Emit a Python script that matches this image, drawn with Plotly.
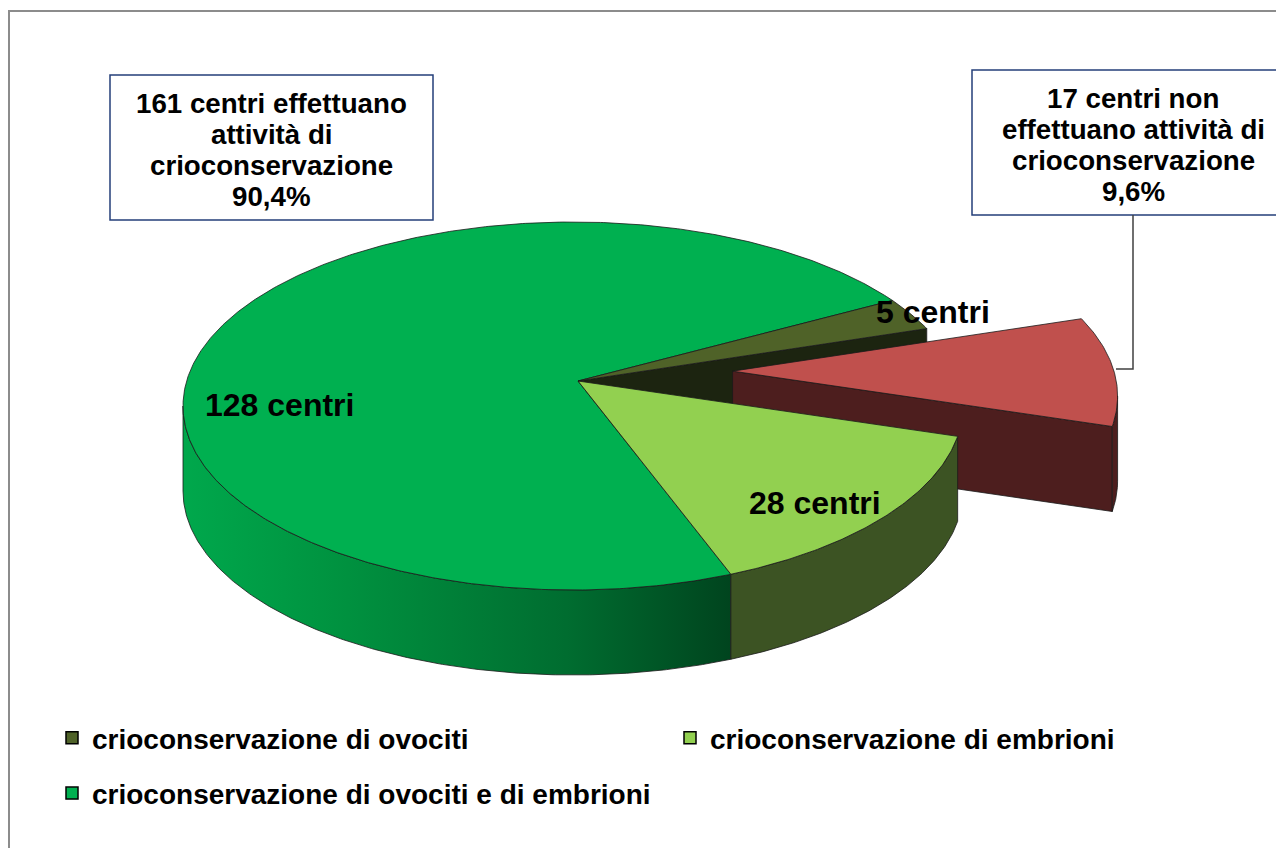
import numpy as np
import plotly.graph_objects as go

# ---------------- data ----------------
categories = [
    "crioconservazione di ovociti",
    "non effettuano crioconservazione",
    "crioconservazione di embrioni",
    "crioconservazione di ovociti e di embrioni",
]
centri = [5, 17, 28, 128]
slice_labels = ["5 centri", "", "28 centri", "128 centri"]
legend_items = [0, 3, 2]          # indexes shown in the legend (ovociti, both, embrioni)
box_left = ["161 centri effettuano", "attività di", "crioconservazione", "90,4%"]
box_right = ["17 centri non", "effettuano attività di", "crioconservazione", "9,6%"]

# ---------------- style ----------------
top_colors = ["#4f6228", "#c0504d", "#92d050", "#00b050"]
side_colors = ["#1c2410", "#4d1e1e", "#3c5323", None]
green_side_scale = [[0, "#00a84c"], [0.3, "#00913f"], [0.7, "#006d30"], [1, "#00441e"]]
explode = [0, 0.4, 0, 0]
FONT = "Liberation Sans, Arial, sans-serif"
EDGE = dict(color="#1a1a1a", width=0.8)

# page offset (browser body margin) so that axis units equal screen pixels
OFF = 8
W, H = 1284, 848

# geometry of the projected (tilted) pie, in pixel units of the axes
CX, CY, A, B = 573, 406, 390, 184
APX, APY = 578, 381
DEPTH = 85
START = 35.0

total = float(sum(centri))
cum = np.concatenate([[0], np.cumsum(centri)]) / total * 360.0
t_start = START - cum[:-1]
t_end = START - cum[1:]


def rim(t1, t2, ox=0.0, oy=0.0, dz=0.0, n=None):
    if n is None:
        n = max(int(abs(t1 - t2) * 2) + 2, 3)
    t = np.radians(np.linspace(t1, t2, n))
    return CX + ox + A * np.cos(t), CY + oy - B * np.sin(t) + dz


def offset(i):
    mid = np.radians((t_start[i] + t_end[i]) / 2)
    return explode[i] * A * np.cos(mid), -explode[i] * B * np.sin(mid)


def lower_parts(t1, t2):
    """parts of arc [t2, t1] (clockwise) where the rim faces the viewer"""
    parts = []
    for lo, hi in [(-540, -360), (-180, 0), (180, 360)]:
        a, b = max(t2, lo), min(t1, hi)
        if b > a:
            parts.append((b, a))
    return parts


fig = go.Figure()


def poly(xs, ys, color, **kw):
    fig.add_trace(go.Scatter(
        x=np.append(xs, xs[0]), y=np.append(ys, ys[0]), mode="lines",
        fill="toself", fillcolor=color, line=EDGE, hoverinfo="skip",
        showlegend=False, **kw))


def radial_face(i, t):
    ox, oy = offset(i)
    rx, ry = rim(t, t, ox, oy, n=1)
    xs = np.array([APX + ox, rx[0], rx[0], APX + ox])
    ys = np.array([APY + oy, ry[0], ry[0] + DEPTH, APY + oy + DEPTH])
    poly(xs, ys, side_colors[i])


def walls(i):
    ox, oy = offset(i)
    for a1, a2 in lower_parts(t_start[i], t_end[i]):
        x1, y1 = rim(a1, a2, ox, oy)
        x2, y2 = rim(a2, a1, ox, oy, DEPTH)
        xs, ys = np.concatenate([x1, x2]), np.concatenate([y1, y2])
        if side_colors[i] is None:
            poly(xs, ys, None, fillgradient=dict(type="horizontal", colorscale=green_side_scale))
        else:
            poly(xs, ys, side_colors[i])


def top(i):
    ox, oy = offset(i)
    x, y = rim(t_start[i], t_end[i], ox, oy)
    poly(np.concatenate([[APX + ox], x]), np.concatenate([[APY + oy], y]), top_colors[i])


# painter's order
radial_face(0, t_end[0])          # cut face of 'ovociti' exposed by the exploded slice
radial_face(1, t_end[1])          # exploded slice
walls(1)
top(1)
walls(3)
walls(2)
for i in (3, 2, 0):
    top(i)

# legend entries
for k, i in enumerate(legend_items):
    fig.add_trace(go.Scatter(
        x=[None], y=[None], mode="markers", name=categories[i],
        marker=dict(symbol="square", size=12, color=top_colors[i], line=dict(color="black", width=1.5)),
        legend="legend" if k < 2 else "legend2", legendgroup=f"g{k}", showlegend=True))

annotations = []
lab_pos = {0: (933, 312), 2: (815, 503), 3: (279, 405)}
for i, (lx, ly) in lab_pos.items():
    annotations.append(dict(x=lx, y=ly, xref="x", yref="y", text=slice_labels[i], showarrow=False,
                            font=dict(family=FONT, size=32, color="black", weight=700)))

for lines, cx, y0 in [(box_left, 271.5, 103), (box_right, 1133, 98)]:
    for j, t in enumerate(lines):
        annotations.append(dict(x=cx, y=y0 + j * 31, xref="x", yref="y", text=t, showarrow=False,
                                font=dict(family=FONT, size=27.7, color="black", weight=700)))

shapes = [
    dict(type="rect", xref="x", yref="y", x0=9, y0=11, x1=1300, y1=870,
         line=dict(color="#8c8c8c", width=2), layer="below"),
    dict(type="rect", xref="x", yref="y", x0=110, y0=75, x1=433, y1=220,
         line=dict(color="#243f7a", width=1.5), fillcolor="white", layer="above"),
    dict(type="rect", xref="x", yref="y", x0=972, y0=70, x1=1296, y1=215,
         line=dict(color="#243f7a", width=1.5), fillcolor="white", layer="above"),
    dict(type="path", xref="x", yref="y", path="M 1133 215 L 1133 369 L 1116 369",
         line=dict(color="#404040", width=1.5)),
]

PW, PH = W - OFF, H - OFF


def px(x):
    return (x - OFF) / PW


def py(y):
    return 1 - (y - OFF) / PH


legend_font = dict(family=FONT, size=28, color="black", weight=700)
fig.update_layout(
    width=PW, height=PH, autosize=False,
    margin=dict(l=0, r=0, t=0, b=0),
    paper_bgcolor="white", plot_bgcolor="white",
    xaxis=dict(range=[OFF, W], visible=False, fixedrange=True),
    yaxis=dict(range=[H, OFF], visible=False, fixedrange=True),
    annotations=annotations, shapes=shapes,
    legend=dict(x=px(52), y=py(713), xanchor="left", yanchor="top", orientation="v",
                font=legend_font, tracegroupgap=16, bgcolor="rgba(0,0,0,0)", itemclick=False),
    legend2=dict(x=px(670), y=py(713), xanchor="left", yanchor="top", orientation="v",
                 font=legend_font, bgcolor="rgba(0,0,0,0)", itemclick=False),
    showlegend=True,
)

fig.write_html("out.html")
